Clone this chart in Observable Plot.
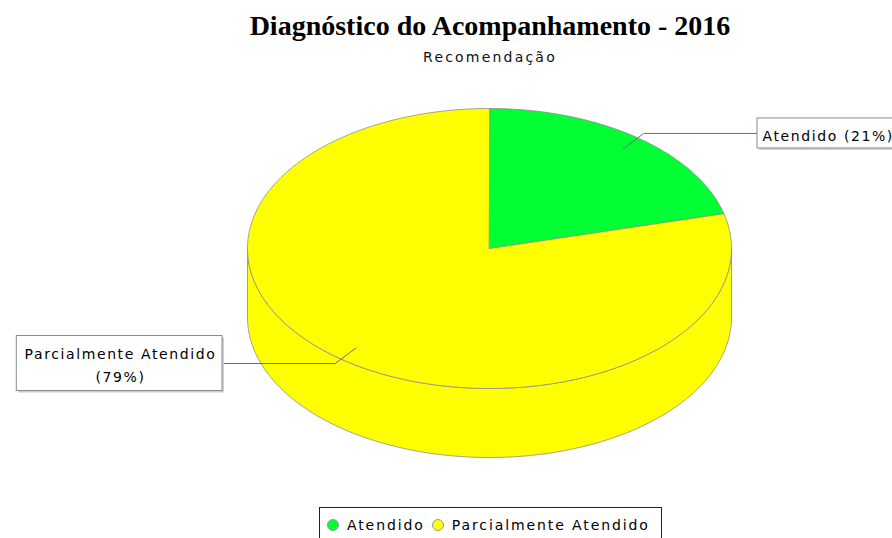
<!DOCTYPE html>
<html><head><meta charset="utf-8">
<script src="https://cdn.jsdelivr.net/npm/d3@7"></script>
<script src="https://cdn.jsdelivr.net/npm/@observablehq/plot@0.6"></script>
<style>
html,body{margin:0;padding:0;background:#fff;overflow:hidden;width:892px;height:538px;position:relative}
#title{position:absolute;left:0;width:980px;top:12px;text-align:center;font-family:"Liberation Serif",serif;font-weight:bold;font-size:28px;color:#000;line-height:1;white-space:nowrap}
#subtitle{position:absolute;left:0;width:980px;top:50px;text-align:center;font-family:"DejaVu Sans",sans-serif;font-size:14px;letter-spacing:2.2px;color:#111;line-height:1;white-space:nowrap}
#chart{position:absolute;left:0;top:75px}
#legend{position:absolute;left:319px;top:507px;height:34px;border:1px solid #222;background:#fff;display:flex;align-items:center;padding:0 4px 0 7px;font-family:"DejaVu Sans",sans-serif;font-size:14px;letter-spacing:1.9px;color:#000;white-space:nowrap}
#legend .sw{width:12px;height:12px;border-radius:50%;border:0.5px solid #999;margin-right:8px;flex:none;box-sizing:border-box}
#legend .it{display:flex;align-items:center;margin-right:7px}
</style></head><body>
<div id="title"></div>
<div id="subtitle"></div>
<div id="chart"></div>
<div id="legend"></div>
<script>
// ---- data ----
const chartTitle = "Diagnóstico do Acompanhamento - 2016";
const chartSubtitle = "Recomendação";
const categories = ["Atendido", "Parcialmente Atendido"];
const values = [21, 79];
const colors = ["#00ff33", "#ffff00"];

// ---- layout ----
const W = 892, H = 538, headerH = 75;
const cx = 489, cy = 248, rx = 242, ry = 140, depth = 69;
const labelRightX = 757, labelLeftX = 222;
const labelFont = 14, labelSpacing = 1.6, maxLabelW = 200;

document.getElementById("title").textContent = chartTitle;
document.getElementById("subtitle").textContent = chartSubtitle;

const ctx = document.createElement("canvas").getContext("2d");
ctx.font = `${labelFont}px "DejaVu Sans"`;
const measure = s => ctx.measureText(s).width + s.length * labelSpacing;

const total = d3.sum(values);
const arcs = d3.pie().sort(null)(values);
const pt = (a, r = 1, dy = 0) => ({x: cx + rx * r * Math.sin(a), y: cy - ry * r * Math.cos(a) + dy});
const arcPts = (a0, a1, dy = 0) => {
  const n = Math.max(2, Math.ceil(Math.abs(a1 - a0) / (Math.PI / 360)));
  return d3.range(n + 1).map(i => pt(a0 + (a1 - a0) * i / n, 1, dy));
};

const marks = [];
// side walls (front half only)
arcs.forEach((a, i) => {
  const lo = Math.max(a.startAngle, Math.PI / 2), hi = Math.min(a.endAngle, 3 * Math.PI / 2);
  if (hi > lo) {
    const pts = [...arcPts(lo, hi), ...arcPts(hi, lo, depth)];
    marks.push(Plot.line(pts, {x: "x", y: "y", fill: colors[i], stroke: "#8a8a8a", strokeWidth: 0.8, curve: "linear-closed"}));
  }
});
// top faces
arcs.forEach((a, i) => {
  const pts = [{x: cx, y: cy}, ...arcPts(a.startAngle, a.endAngle)];
  marks.push(Plot.line(pts, {x: "x", y: "y", fill: colors[i], stroke: "#8a8a8a", strokeWidth: 0.8, curve: "linear-closed"}));
});
// labels
const labels = arcs.map((a, i) => {
  const mid = (a.startAngle + a.endAngle) / 2;
  const right = Math.sin(mid) > 0;
  const inner = pt(mid, 0.9), elbow = pt(mid, 1.04);
  const endX = right ? labelRightX : labelLeftX;
  let text = `${categories[i]} (${Math.round(values[i] / total * 100)}%)`;
  if (measure(text) > maxLabelW) text = text.replace(/ \(/, "\n(");
  const lines = text.split("\n");
  const w = d3.max(lines, measure) + 14;
  const h = lines.length * 25 + 5;
  const x1 = right ? endX : endX - w, x2 = right ? endX + w : endX;
  return {right, leader: [inner, elbow, {x: endX, y: elbow.y}], text, x1, x2, y1: elbow.y - h / 2, y2: elbow.y + h / 2, tx: right ? x1 + 5 : (x1 + x2) / 2 + labelSpacing / 2, ty: elbow.y};
});
labels.forEach(l => marks.push(Plot.line(l.leader, {x: "x", y: "y", stroke: "#6f6f6f", strokeWidth: 1})));
marks.push(Plot.rect(labels, {x1: "x1", x2: "x2", y1: "y1", y2: "y2", fill: "#cfcfcf", dx: 2, dy: 2}));
marks.push(Plot.rect(labels, {x1: "x1", x2: "x2", y1: "y1", y2: "y2", fill: "white", stroke: "#8a8a8a", strokeWidth: 1}));
marks.push(Plot.text(labels.filter(l => l.right), {x: "tx", y: "ty", text: "text", fill: "#000", fontSize: labelFont, lineHeight: 1.65, textAnchor: "start"}));
marks.push(Plot.text(labels.filter(l => !l.right), {x: "tx", y: "ty", text: "text", fill: "#000", fontSize: labelFont, lineHeight: 1.65}));

const chart = Plot.plot({
  width: W, height: H - headerH, margin: 0,
  x: {domain: [0, W], range: [0, W], axis: null},
  y: {domain: [headerH, H], range: [0, H - headerH], axis: null},
  style: {fontFamily: "DejaVu Sans, sans-serif", fontSize: `${labelFont}px`, letterSpacing: `${labelSpacing}px`, background: "white", overflow: "visible"},
  marks
});
document.getElementById("chart").append(chart);

// legend
const lg = document.getElementById("legend");
categories.forEach((c, i) => {
  const it = document.createElement("div"); it.className = "it";
  const sw = document.createElement("div"); sw.className = "sw"; sw.style.background = colors[i];
  const tx = document.createElement("span"); tx.textContent = c;
  it.append(sw, tx); lg.append(it);
});
</script>
</body></html>
